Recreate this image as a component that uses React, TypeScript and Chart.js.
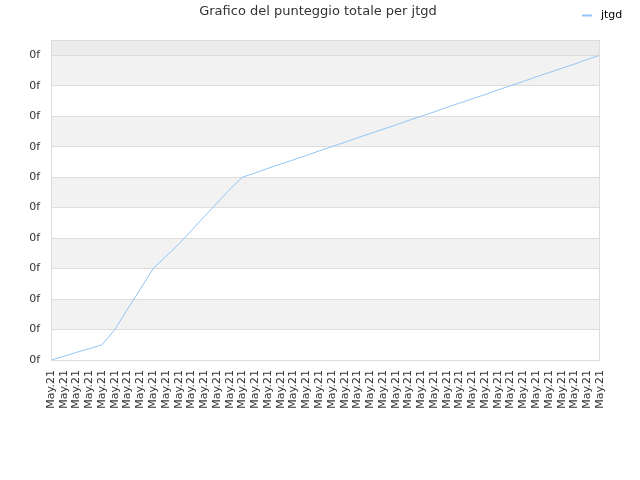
import React, { useEffect, useRef } from 'react';
import { Chart, registerables } from 'chart.js';

Chart.register(...registerables);

const chartTitle = 'Grafico del punteggio totale per jtgd';
const seriesLabel = 'jtgd';
const labels: string[] = Array(44).fill('May.21');
const scores: number[] = [
  0, 0.12, 0.25, 0.37, 0.5, 1.0, 1.67, 2.33, 3.0, 3.4,
  3.8, 4.25, 4.7, 5.15, 5.6, 6.0, 6.14, 6.29, 6.43, 6.57,
  6.71, 6.86, 7.0, 7.14, 7.29, 7.43, 7.57, 7.71, 7.86, 8.0,
  8.14, 8.29, 8.43, 8.57, 8.71, 8.86, 9.0, 9.14, 9.29, 9.43,
  9.57, 9.71, 9.86, 10.0,
];
const yMax = 10.5;
const tickText = '0f';

const FONT = '"DejaVu Sans", sans-serif';
const LINE_COLOR = '#94c4f6';

// background bands, frame, title and legend
const decorations = {
  id: 'decorations',
  beforeDraw(chart: Chart) {
    const { ctx, chartArea } = chart;
    const y = chart.scales.y;
    ctx.save();
    ctx.fillStyle = '#ffffff';
    ctx.fillRect(0, 0, chart.width, chart.height);
    for (let v = 0; v < 10; v++) {
      if (v % 2 === 1) {
        const top = y.getPixelForValue(v + 1);
        const bottom = y.getPixelForValue(v);
        ctx.fillStyle = '#f2f2f2';
        ctx.fillRect(chartArea.left, top, chartArea.right - chartArea.left, bottom - top);
      }
    }
    const t = y.getPixelForValue(10);
    ctx.fillStyle = '#ececec';
    ctx.fillRect(chartArea.left, chartArea.top, chartArea.right - chartArea.left, t - chartArea.top);
    ctx.restore();
  },
  afterDraw(chart: Chart) {
    const { ctx, chartArea } = chart;
    ctx.save();
    ctx.strokeStyle = '#dddddd';
    ctx.lineWidth = 1;
    ctx.strokeRect(chartArea.left + 0.5, chartArea.top + 0.5, chartArea.right - chartArea.left - 1, chartArea.bottom - chartArea.top);
    ctx.fillStyle = '#333333';
    ctx.font = `13px ${FONT}`;
    ctx.textAlign = 'center';
    ctx.textBaseline = 'middle';
    ctx.fillText(chartTitle, 318, 12);
    ctx.strokeStyle = LINE_COLOR;
    ctx.lineWidth = 2;
    ctx.beginPath();
    ctx.moveTo(582, 15.5);
    ctx.lineTo(592, 15.5);
    ctx.stroke();
    ctx.fillStyle = '#000000';
    ctx.font = `11px ${FONT}`;
    ctx.textAlign = 'left';
    ctx.fillText(seriesLabel, 601, 15);
    ctx.restore();
  },
};

const App: React.FC = () => {
  const canvasRef = useRef<HTMLCanvasElement>(null);
  const chartRef = useRef<Chart | null>(null);

  useEffect(() => {
    if (!canvasRef.current) return;
    if (chartRef.current) chartRef.current.destroy();

    chartRef.current = new Chart(canvasRef.current, {
      type: 'line',
      data: {
        labels,
        datasets: [
          {
            label: seriesLabel,
            data: scores,
            borderColor: LINE_COLOR,
            borderWidth: 1,
            pointRadius: 0,
            tension: 0,
            fill: false,
          },
        ],
      },
      options: {
        responsive: false,
        animation: false,
        layout: { padding: { left: 0, right: 40, top: 40, bottom: 0 } },
        plugins: {
          legend: { display: false },
          title: { display: false },
          tooltip: { enabled: false },
        },
        scales: {
          x: {
            offset: false,
            grid: { display: false },
            border: { display: false },
            ticks: {
              autoSkip: false,
              maxRotation: 90,
              minRotation: 90,
              color: '#333333',
              font: { family: FONT, size: 11 },
              padding: 2,
            },
            afterFit(scale: any) {
              scale.height = 120;
            },
          },
          y: {
            min: 0,
            max: yMax,
            grid: { color: '#dddddd', drawTicks: false },
            border: { display: false },
            ticks: {
              stepSize: 1,
              includeBounds: false,
              color: '#333333',
              font: { family: FONT, size: 11 },
              padding: 11,
              callback: () => tickText,
            },
            afterFit(scale: any) {
              scale.width = 51;
            },
          },
        },
      },
      plugins: [decorations],
    });

    return () => {
      if (chartRef.current) {
        chartRef.current.destroy();
        chartRef.current = null;
      }
    };
  }, []);

  return (
    <div style={{ position: 'fixed', left: 0, top: 0, width: 640, height: 480, background: '#fff' }}>
      <canvas ref={canvasRef} width={640} height={480} style={{ width: 640, height: 480 }} />
    </div>
  );
};

export default App;
